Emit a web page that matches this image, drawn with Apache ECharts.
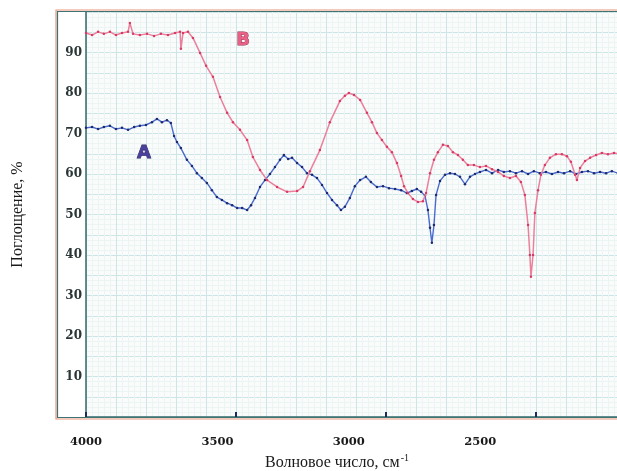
<!DOCTYPE html>
<html>
<head>
<meta charset="utf-8">
<script src="https://cdn.jsdelivr.net/npm/echarts@6/dist/echarts.min.js"></script>
<style>html,body{margin:0;padding:0;background:#fff}#c{width:617px;height:471px}</style>
</head>
<body>
<div id="c"></div>
<script>
// ---- data (wavenumber, cm^-1 ; absorption, %) ----
const waveB = [4000,3977,3954,3932,3909,3886,3863,3840,3833,3821,3795,3768,3741,3715,3688,3661,3642,3639,3631,3612,3593,3566,3543,3517,3490,3463,3441,3414,3387,3365,3338,3311,3273,3235,3197,3174,3148,3110,3072,3034,3015,3000,2980,2957,2931,2912,2893,2874,2855,2836,2817,2801,2790,2775,2756,2737,2718,2706,2691,2676,2661,2642,2623,2604,2585,2566,2547,2524,2501,2478,2455,2432,2410,2387,2364,2345,2330,2318,2311,2307,2299,2292,2280,2269,2254,2235,2212,2189,2170,2155,2139,2132,2120,2101,2082,2059,2037,2014,1991,1968];
const absB  = [94.8,94.3,95.1,94.6,95.1,94.3,94.8,95.1,97.3,94.6,94.3,94.6,94.1,94.6,94.3,94.8,95.1,90.9,94.8,95.1,93.6,89.9,86.7,84.0,79.0,75.1,72.8,70.9,68.4,64.2,61.0,58.5,56.8,55.6,55.8,56.8,60.7,65.9,72.8,78.0,79.3,80.0,79.5,78.3,75.1,72.8,70.1,68.4,66.7,65.4,62.7,59.5,57.0,55.3,53.8,53.1,53.3,55.3,60.2,63.5,65.4,67.2,66.9,65.4,64.7,63.5,62.2,62.2,61.7,62.0,61.2,60.5,59.5,59.0,59.5,58.0,54.8,47.4,40.0,34.6,40.0,50.4,56.0,59.8,62.2,64.0,64.9,64.9,64.4,63.0,59.8,58.5,61.5,63.2,64.0,64.7,65.2,64.9,65.2,64.9];
const waveA = [4000,3977,3954,3932,3909,3886,3863,3840,3817,3795,3772,3749,3730,3711,3692,3677,3665,3654,3639,3616,3597,3578,3559,3540,3521,3502,3483,3463,3444,3425,3406,3387,3372,3357,3338,3319,3300,3281,3262,3247,3231,3216,3197,3178,3159,3140,3121,3102,3083,3064,3045,3030,3015,2996,2977,2957,2935,2916,2893,2870,2847,2824,2801,2779,2760,2741,2725,2710,2699,2691,2684,2676,2668,2653,2634,2615,2596,2577,2558,2539,2520,2501,2478,2455,2432,2410,2387,2364,2341,2318,2296,2273,2250,2227,2204,2181,2158,2136,2113,2090,2067,2044,2021,1999,1976];
const absA  = [71.4,71.6,71.1,71.6,71.9,71.1,71.4,70.9,71.6,71.9,72.1,72.8,73.6,72.8,73.3,72.6,69.4,67.9,66.4,63.5,62.0,60.2,59.0,57.8,56.0,54.3,53.6,52.8,52.3,51.6,51.6,51.1,52.3,54.1,56.8,58.5,60.0,61.7,63.5,64.7,63.7,64.0,62.7,61.7,60.2,59.8,59.0,57.3,55.3,53.6,52.3,51.1,51.9,54.1,57.0,58.5,59.3,58.0,56.8,57.0,56.5,56.3,56.0,55.3,55.8,56.3,55.6,54.6,51.1,46.7,43.0,47.4,54.8,58.3,59.8,60.2,60.0,59.3,57.5,59.3,60.0,60.5,61.0,60.2,61.0,60.5,60.7,60.2,60.7,60.0,60.7,60.2,60.5,60.0,60.5,60.2,60.7,60.0,60.5,60.7,60.2,60.5,60.2,60.7,60.2];
const xTickLabels = [4000, 3500, 3000, 2500];
const yTickLabels = [10, 20, 30, 40, 50, 60, 70, 80, 90];
const seriesNames = ['A', 'B'];

const pairs = (xs, ys) => xs.map((x, i) => [x, ys[i]]);

const chart = echarts.init(document.getElementById('c'), null, {renderer: 'canvas'});
const serif = 'Liberation Serif';
const tickFont = 'DejaVu Serif';
const option = {
  animation: false,
  backgroundColor: '#ffffff',
  grid: {left: 86, top: 12, width: 600, height: 405, show: true,
         backgroundColor: '#fafcfb', borderWidth: 0, outerBoundsMode: 'none', containLabel: false},
  xAxis: [
    { // data / label axis
      type: 'value', position: 'bottom', inverse: true, min: 1717, max: 4000,
      axisLine: {show: true, onZero: false, lineStyle: {color: '#2f6a6c', width: 1.5}},
      axisTick: {show: false},
      splitLine: {show: false},
      axisLabel: {customValues: xTickLabels, formatter: v => String(v), margin: 19,
                  fontFamily: tickFont, fontWeight: 'bold', fontSize: 11.5, color: '#1a1a1a'},
      name: '{a|Волновое число, см}{s|-1}', nameLocation: 'middle', nameGap: 34,
      nameTextStyle: {padding: [0, 98, 0, 0], rich: {
        a: {fontFamily: serif, fontSize: 16, color: '#1a1a1a'},
        s: {fontFamily: serif, fontSize: 10, color: '#1a1a1a', verticalAlign: 'top', padding: [0, 0, 10, 1]}
      }}
    },
    { // graph-paper grid
      type: 'value', position: 'top', inverse: true, min: 2000, max: 4000, interval: 100,
      axisLine: {show: false}, axisTick: {show: false}, axisLabel: {show: false},
      splitLine: {show: true, lineStyle: {color: '#cde5e6', width: 1}},
      minorTick: {show: false, splitNumber: 5},
      minorSplitLine: {show: true, lineStyle: {color: '#edf5f4', width: 1}}
    },
    { // tick marks of the instrument scale
      type: 'value', position: 'bottom', inverse: true, min: 2000, max: 4000, interval: 500,
      axisLine: {show: false}, axisLabel: {show: false}, splitLine: {show: false},
      axisTick: {show: true, inside: true, length: 5, lineStyle: {color: '#1c2a5a', width: 2}}
    }
  ],
  yAxis: {
    type: 'value', min: 0, max: 100, interval: 5,
    axisLine: {show: true, lineStyle: {color: '#2f6a6c', width: 1.5}},
    axisTick: {show: false},
    axisLabel: {formatter: v => (yTickLabels.indexOf(v) >= 0 ? String(v) : ''), margin: 4,
                fontFamily: tickFont, fontWeight: 'bold', fontSize: 12, color: '#2a3535'},
    splitLine: {show: true, lineStyle: {color: '#cde5e6', width: 1}},
    minorTick: {show: false, splitNumber: 4},
    minorSplitLine: {show: true, lineStyle: {color: '#edf5f4', width: 1}},
    name: 'Поглощение, %', nameLocation: 'middle', nameGap: 60,
    nameTextStyle: {fontFamily: serif, fontSize: 16, color: '#1a1a1a'}
  },
  series: [
    {name: seriesNames[0], type: 'line', xAxisIndex: 0, data: pairs(waveA, absA),
     symbol: 'circle', symbolSize: 2.5, showAllSymbol: true,
     lineStyle: {color: '#4a6ad0', width: 1.4}, itemStyle: {color: '#1e2a6a'}, z: 3},
    {name: seriesNames[1], type: 'line', xAxisIndex: 0, data: pairs(waveB, absB),
     symbol: 'circle', symbolSize: 2.5, showAllSymbol: true,
     lineStyle: {color: '#ec7f9c', width: 1.5}, itemStyle: {color: '#d83a66'}, z: 4}
  ],
  graphic: [
    {type: 'rect', shape: {x: 56, y: 10, width: 620, height: 409}, z: 10,
     style: {fill: null, stroke: '#e9957a', lineWidth: 1.2}, silent: true},
    {type: 'rect', shape: {x: 57.5, y: 11.5, width: 620, height: 406}, z: 10,
     style: {fill: null, stroke: '#3d7372', lineWidth: 1.2}, silent: true},
    {type: 'text', x: 144, y: 153, z: 20,
     style: {text: seriesNames[0], font: 'bold 18px "DejaVu Sans"', fill: '#4b3f9c', stroke: '#2a2660', lineWidth: 0.8,
             textAlign: 'center', textVerticalAlign: 'middle'}},
    {type: 'text', x: 243, y: 40, z: 20,
     style: {text: seriesNames[1], font: 'bold 18px "DejaVu Sans"', fill: '#ea5f85', stroke: '#8c2a48', lineWidth: 0.8,
             textAlign: 'center', textVerticalAlign: 'middle'}}
  ]
};
chart.setOption(option);
</script>
</body>
</html>
